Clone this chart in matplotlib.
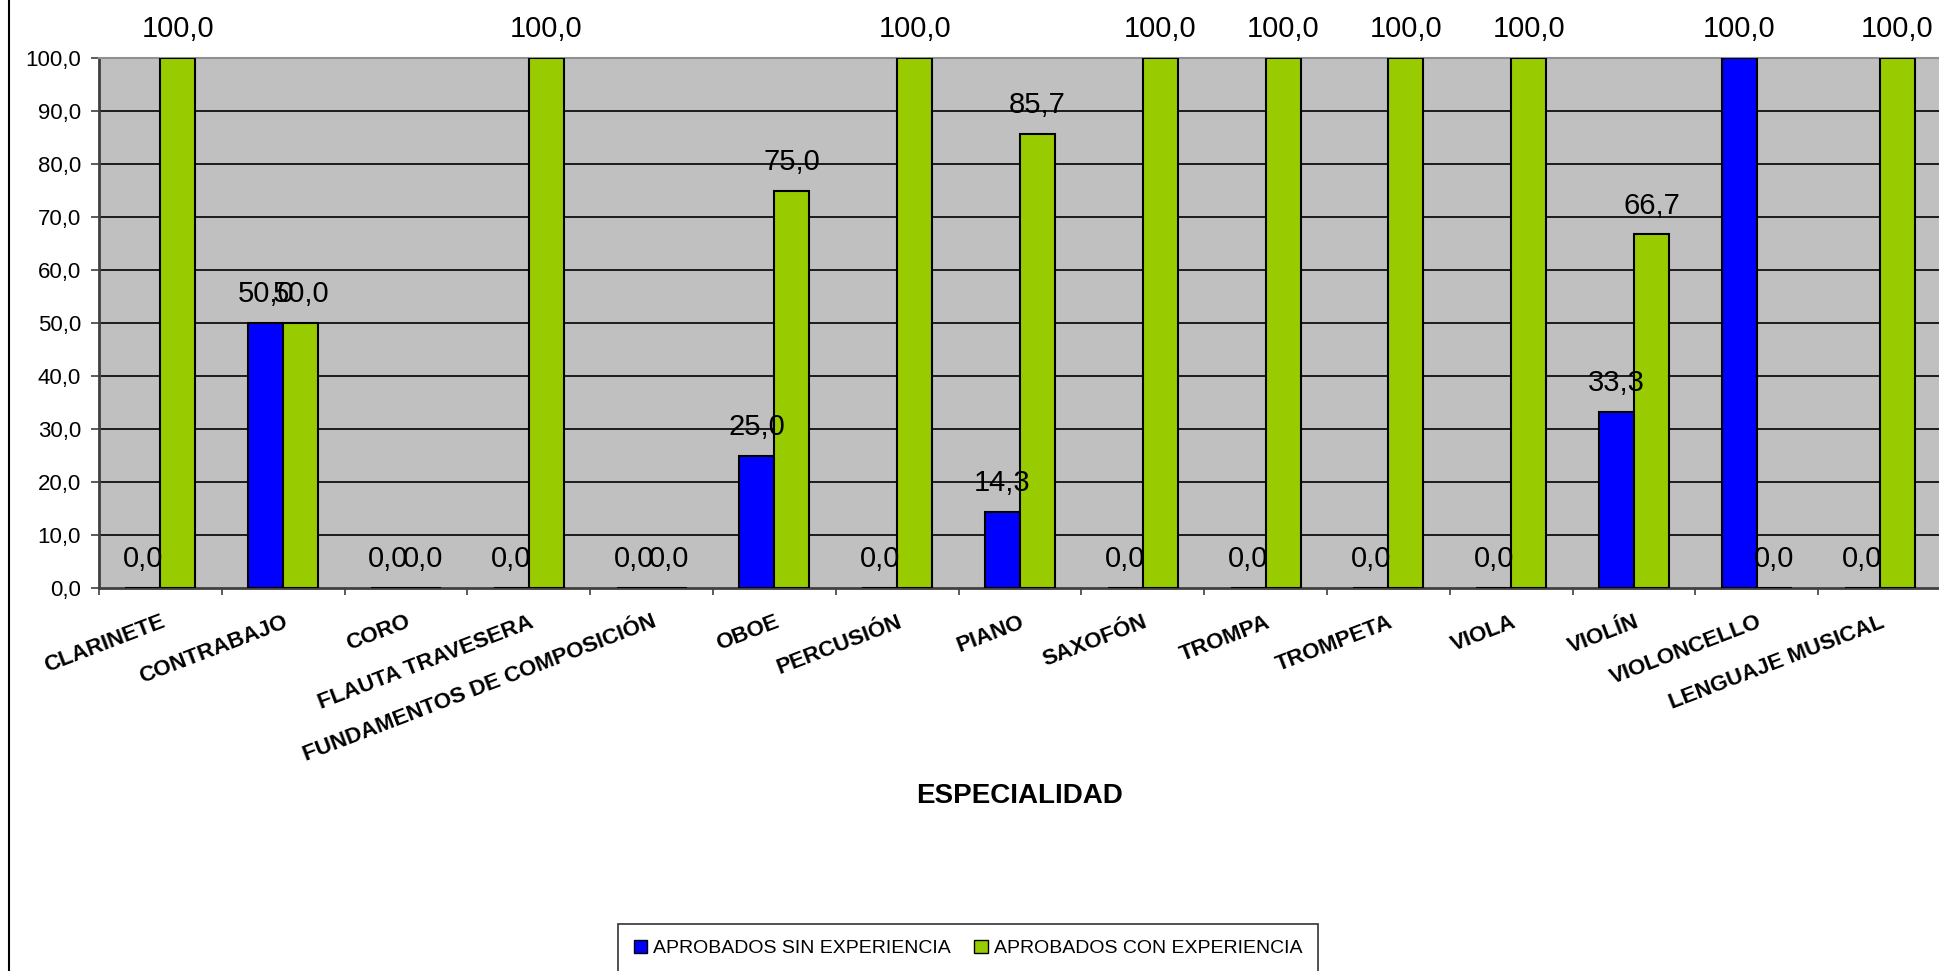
import numpy as np
import matplotlib
matplotlib.use('Agg')
import matplotlib.pyplot as plt
from matplotlib.patches import Patch
from matplotlib.lines import Line2D

plt.rcParams['font.family'] = ['Liberation Sans', 'DejaVu Sans']

especialidades = ['CLARINETE', 'CONTRABAJO', 'CORO', 'FLAUTA TRAVESERA',
                  'FUNDAMENTOS DE COMPOSICIÓN', 'OBOE', 'PERCUSIÓN', 'PIANO',
                  'SAXOFÓN', 'TROMPA', 'TROMPETA', 'VIOLA', 'VIOLÍN',
                  'VIOLONCELLO', 'LENGUAJE MUSICAL']
sin_experiencia = [0.0, 50.0, 0.0, 0.0, 0.0, 25.0, 0.0, 14.3, 0.0, 0.0, 0.0, 0.0, 33.3, 100.0, 0.0]
con_experiencia = [100.0, 50.0, 0.0, 100.0, 0.0, 75.0, 100.0, 85.7, 100.0, 100.0, 100.0, 100.0, 66.7, 0.0, 100.0]
y_ticks = [0, 10, 20, 30, 40, 50, 60, 70, 80, 90, 100]
series_names = ['APROBADOS SIN EXPERIENCIA', 'APROBADOS CON EXPERIENCIA']

blue = '#0000FF'
green = '#99CC00'

fig = plt.figure(figsize=(19.39, 9.71), dpi=100)
ax = fig.add_axes([99/1939, 1-588/971, (1941-99)/1939, (588-58)/971])
ax.set_facecolor('#C0C0C0')

x = np.arange(len(especialidades))
w = 1/3.5

b1 = ax.bar(x - w/2, sin_experiencia, w, color=blue, edgecolor='black', linewidth=1.5, zorder=3)
b2 = ax.bar(x + w/2, con_experiencia, w, color=green, edgecolor='black', linewidth=1.5, zorder=3)

def fmt(v):
    return ('%.1f' % v).replace('.', ',')

for bars, vals in ((b1, sin_experiencia), (b2, con_experiencia)):
    for b, v in zip(bars, vals):
        ax.annotate(fmt(v), (b.get_x() + b.get_width()/2, v), xytext=(0, 15),
                    textcoords='offset points', ha='center', va='baseline',
                    fontsize=21, color='black', zorder=5, annotation_clip=False)

# gridlines
for t in y_ticks[1:-1]:
    ax.axhline(t, color='black', linewidth=1.2, zorder=1)

ax.set_xlim(-0.5, len(especialidades) - 0.5)
ax.set_ylim(0, 100)
ax.set_yticks(y_ticks)
ax.set_yticklabels([fmt(t) for t in y_ticks], fontsize=16)
ax.tick_params(axis='y', direction='out', length=6, width=1.2, pad=7, color='#404040')

ax.set_xticks(x)
ax.set_xticklabels(especialidades, rotation=21, ha='right', rotation_mode='anchor',
                   fontsize=16, fontweight='bold')
ax.tick_params(axis='x', which='major', length=0, pad=17)
ax.set_xticks(np.arange(len(especialidades) + 1) - 0.5, minor=True)
ax.tick_params(axis='x', which='minor', direction='out', length=5, width=1.2, color='#404040')

for s in ('left', 'bottom'):
    ax.spines[s].set_color('#404040')
    ax.spines[s].set_linewidth(2)
ax.spines['top'].set_color('#909090')
ax.spines['top'].set_linewidth(1.5)
ax.spines['right'].set_visible(False)

fig.text(1020/1939, 1-796/971, 'ESPECIALIDAD', ha='center', va='center',
         fontsize=20, fontweight='bold')

# outer chart border (left edge)
fig.add_artist(Line2D([9/1939, 9/1939], [0, 1], color='black', linewidth=1.5,
                      transform=fig.transFigure))

handles = [Patch(facecolor=blue, edgecolor='black', linewidth=1),
           Patch(facecolor=green, edgecolor='black', linewidth=1)]
leg = fig.legend(handles, series_names, loc='upper center',
                 bbox_to_anchor=(968/1939, 1-924/971), ncol=2, fontsize=14,
                 frameon=True, fancybox=False, edgecolor='black', shadow=False,
                 handlelength=0.7, handleheight=0.7, handletextpad=0.3,
                 columnspacing=1.2, borderpad=0.8, borderaxespad=0)
leg.get_frame().set_linewidth(1.2)

fig.savefig('out.png', dpi=100)
